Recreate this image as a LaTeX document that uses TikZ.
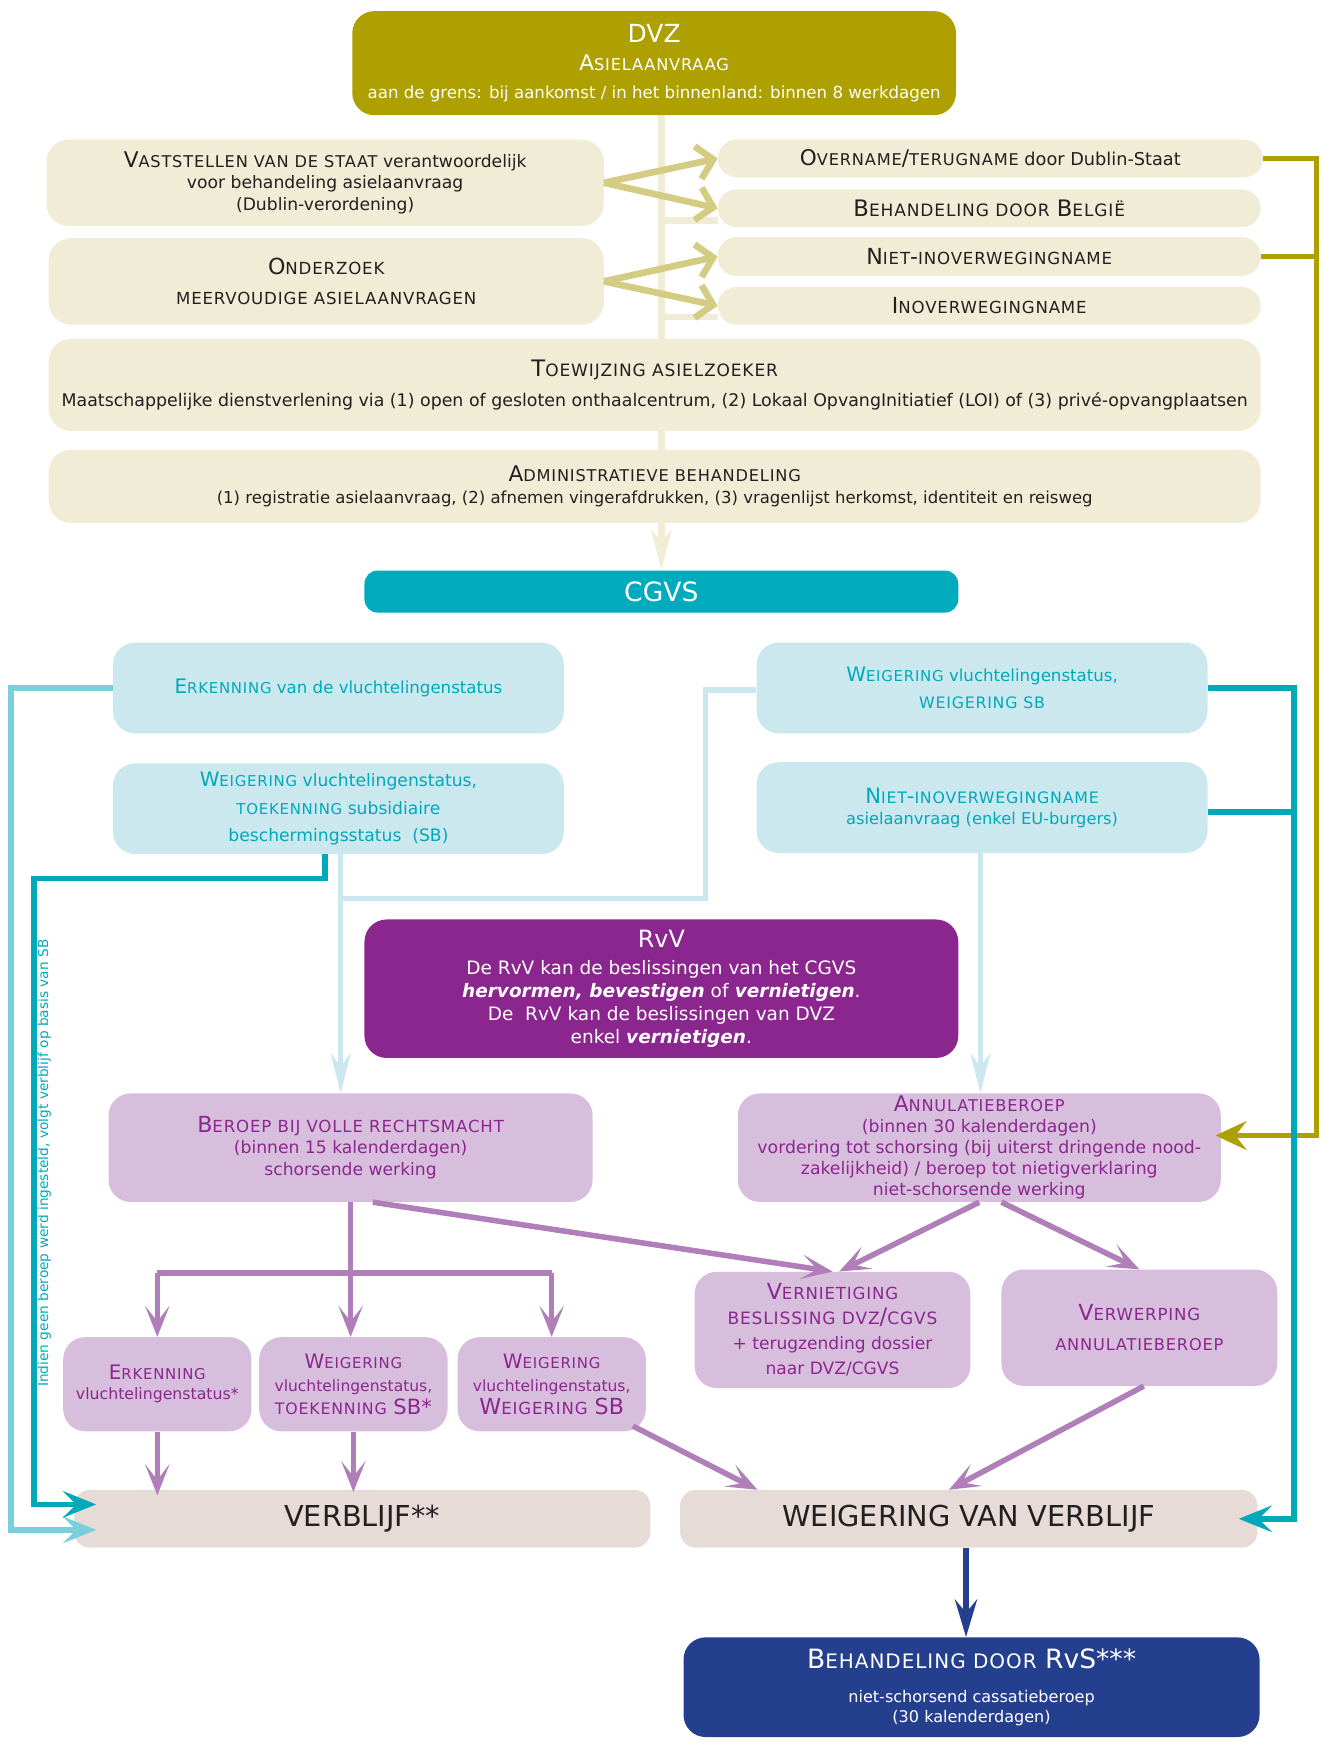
\documentclass[tikz,border=0pt]{standalone}
\usepackage{fontspec}
\setmainfont{DejaVu Sans}
\usepackage{xcolor}
\usetikzlibrary{shapes,arrows,positioning,fit,backgrounds,calc,arrows.meta}
\makeatletter
\newcommand{\smc}[1]{{\fontsize{\dimexpr\f@size pt*3/4\relax}{\baselineskip}\selectfont\addfontfeature{LetterSpace=5}\MakeUppercase{#1}}}
\makeatother
\newcommand{\fs}[2]{\fontsize{#1}{#2}\selectfont}
\definecolor{dvzolijf}{HTML}{ADA000}
\definecolor{beigevlak}{HTML}{F0ECD5}
\definecolor{kaki}{HTML}{D5CC83}
\definecolor{cgvsteal}{HTML}{00ABBD}
\definecolor{lichtblauw}{HTML}{CBE8EE}
\definecolor{tealtekst}{HTML}{00A9BA}
\definecolor{lichtteal}{HTML}{79CFDB}
\definecolor{paars}{HTML}{8B268E}
\definecolor{lila}{HTML}{D8BEDD}
\definecolor{lilapijl}{HTML}{B07FBA}
\definecolor{zandkleur}{HTML}{E6DBD7}
\definecolor{donkerblauw}{HTML}{253F8F}
\definecolor{donkertekst}{HTML}{231F20}
\tikzstyle{vak} = [rectangle, rounded corners=20pt, align=center, inner sep=0pt]
\tikzstyle{dvzbox} = [vak, fill=dvzolijf, text=white]
\tikzstyle{stapbox} = [vak, fill=beigevlak, text=donkertekst]
\tikzstyle{cgvsbox} = [vak, rounded corners=12pt, fill=cgvsteal, text=white]
\tikzstyle{besluit} = [vak, fill=lichtblauw, text=tealtekst]
\tikzstyle{rvvbox} = [vak, fill=paars, text=white]
\tikzstyle{beroepbox} = [vak, fill=lila, text=paars]
\tikzstyle{uitkomst} = [vak, rounded corners=14pt, fill=zandkleur, text=donkertekst]
\tikzstyle{rvsbox} = [vak, fill=donkerblauw, text=white]
\tikzstyle{spijl} = [draw=beigevlak, line width=6pt]
\tikzstyle{spijlpijl} = [spijl, -{Stealth[length=36pt,width=18pt,inset=10pt]}]
\tikzstyle{kakipijl} = [draw=kaki, line width=6pt, -{Straight Barb[length=14pt,width=30pt]}]
\tikzstyle{olijflijn} = [draw=dvzolijf, line width=5pt]
\tikzstyle{olijfpijl} = [olijflijn, -{Stealth[length=28pt,width=26pt,inset=10pt]}]
\tikzstyle{teallijn} = [draw=tealtekst, line width=5pt]
\tikzstyle{tealpijl} = [teallijn, -{Stealth[length=30pt,width=24pt,inset=12pt]}]
\tikzstyle{lichtpijl} = [draw=lichtteal, line width=5pt, -{Stealth[length=30pt,width=24pt,inset=12pt]}]
\tikzstyle{bleeklijn} = [draw=lichtblauw, line width=5pt]
\tikzstyle{bleekpijl} = [bleeklijn, -{Stealth[length=36pt,width=18pt,inset=12pt]}]
\tikzstyle{paarslijn} = [draw=lilapijl, line width=5pt]
\tikzstyle{paarspijl} = [paarslijn, -{Stealth[length=28pt,width=22pt,inset=14pt]}]
\tikzstyle{blauwpijl} = [draw=donkerblauw, line width=5pt, -{Stealth[length=34pt,width=20pt,inset=12pt]}]

\begin{document}
\begin{tikzpicture}[x=1pt, y=-1pt]
    \useasboundingbox (0,0) rectangle (1200,1577);

    % DVZ
    \node[dvzbox, minimum width=545pt, minimum height=94pt, font=\fs{15}{25}] (dvz) at (590.5,57)
        {{\fs{22.5}{25}DVZ}\\{\fs{19.5}{25}A\smc{sielaanvraag}}\\aan de grens: bij aankomst / in het binnenland: binnen 8 werkdagen};

    % Dublin en onderzoek
    \node[stapbox, minimum width=503pt, minimum height=78pt, font=\fs{15.5}{19.5}] (vast) at (293.5,165)
        {{\fs{19.5}{19.5}V\smc{aststellen van de staat}} verantwoordelijk\\voor behandeling asielaanvraag\\(Dublin-verordening)};
    \node[stapbox, rounded corners=17pt, minimum width=492pt, minimum height=34pt, font=\fs{16}{16}] (over) at (894,143)
        {{\fs{19.5}{16}O\smc{vername}/\smc{terugname}} door Dublin-Staat};
    \node[stapbox, rounded corners=17pt, minimum width=490pt, minimum height=34pt, font=\fs{20.5}{16}] (belg) at (893,188)
        {B\smc{ehandeling door} B\smc{elgië}};
    \node[stapbox, minimum width=501pt, minimum height=78pt, font=\fs{20}{27}] (onder) at (294.5,254)
        {O\smc{nderzoek}\\\smc{meervoudige asielaanvragen}};
    \node[stapbox, rounded corners=17pt, minimum width=490pt, minimum height=35pt, font=\fs{20}{16}] (niet) at (893,231.5)
        {N\smc{iet}-\smc{inoverwegingname}};
    \node[stapbox, rounded corners=17pt, minimum width=490pt, minimum height=34pt, font=\fs{20}{16}] (inov) at (893,276)
        {I\smc{noverwegingname}};

    % Toewijzing en administratie
    \node[stapbox, minimum width=1094pt, minimum height=83pt, font=\fs{15.7}{27}] (toew) at (591,347.5)
        {{\fs{20.5}{27}T\smc{oewijzing asielzoeker}}\\Maatschappelijke dienstverlening via (1) open of gesloten onthaalcentrum, (2) Lokaal OpvangInitiatief (LOI) of (3) privé-opvangplaatsen};
    \node[stapbox, minimum width=1094pt, minimum height=66pt, font=\fs{14.9}{20}] (admin) at (591,439)
        {{\fs{19.5}{20}A\smc{dministratieve behandeling}}\\(1) registratie asielaanvraag, (2) afnemen vingerafdrukken, (3) vragenlijst herkomst, identiteit en reisweg};

    % CGVS
    \node[cgvsbox, minimum width=536pt, minimum height=38pt, font=\fs{24}{26}] (cgvs) at (597,534) {CGVS};

    % Beslissingen CGVS
    \node[besluit, minimum width=407pt, minimum height=82pt, font=\fs{15}{25}] (erk) at (305.5,621)
        {{\fs{18}{25}E\smc{rkenning}} van de vluchtelingenstatus};
    \node[besluit, minimum width=407pt, minimum height=82pt, font=\fs{15}{25}] (weig1) at (886.5,621)
        {{\fs{18}{25}W\smc{eigering}} vluchtelingenstatus,\\{\fs{19}{25}\smc{weigering sb}}};
    \node[besluit, minimum width=407pt, minimum height=82pt, font=\fs{15.5}{25}] (weig2) at (305.5,730)
        {{\fs{18}{25}W\smc{eigering}} vluchtelingenstatus,\\{\fs{18}{25}\smc{toekenning}} subsidiaire\\beschermingsstatus~~(SB)};
    \node[besluit, minimum width=407pt, minimum height=82pt, font=\fs{14.7}{19}] (niet2) at (886.5,729)
        {{\fs{19}{19}N\smc{iet}-\smc{inoverwegingname}}\\asielaanvraag (enkel EU-burgers)};

    % RvV
    \node[rvvbox, minimum width=536pt, minimum height=125pt, font=\fs{16.7}{20.5}] (rvv) at (597,892.5)
        {{\fs{21.5}{24}RvV}\\[4pt]De RvV kan de beslissingen van het CGVS\\\textbf{\textit{hervormen, bevestigen}} of \textbf{\textit{vernietigen}}.\\De~ RvV kan de beslissingen van DVZ\\enkel \textbf{\textit{vernietigen}}.};

    % Beroepen
    \node[beroepbox, minimum width=437pt, minimum height=98pt, font=\fs{15.5}{19.5}] (beroep) at (316.5,1036)
        {{\fs{20}{21}B\smc{eroep bij volle rechtsmacht}}\\(binnen 15 kalenderdagen)\\schorsende werking};
    \node[beroepbox, minimum width=436pt, minimum height=98pt, font=\fs{15.6}{19}] (annul) at (884,1036)
        {{\fs{19.5}{19}A\smc{nnulatieberoep}}\\(binnen 30 kalenderdagen)\\vordering tot schorsing (bij uiterst dringende nood-\\zakelijkheid) / beroep tot nietigverklaring\\niet-schorsende werking};

    % Uitspraken RvV
    \node[beroepbox, minimum width=170pt, minimum height=85pt, font=\fs{14.2}{18}] (erk2) at (142,1249.5)
        {{\fs{18}{18}E\smc{rkenning}}\\vluchtelingenstatus*};
    \node[beroepbox, minimum width=170pt, minimum height=85pt, font=\fs{14}{20.5}] (weig3) at (319,1249.5)
        {{\fs{18}{20.5}W\smc{eigering}}\\vluchtelingenstatus,\\{\fs{19}{20.5}\smc{toekenning} SB*}};
    \node[beroepbox, minimum width=170pt, minimum height=85pt, font=\fs{14}{20.5}] (weig4) at (498,1249.5)
        {{\fs{18}{20.5}W\smc{eigering}}\\vluchtelingenstatus,\\{\fs{20}{20.5}W\smc{eigering} SB}};
    \node[beroepbox, minimum width=249pt, minimum height=105pt, font=\fs{15.4}{22.5}] (vern) at (751.5,1200.5)
        {{\fs{20}{22.5}V\smc{ernietiging}}\\{\fs{20.5}{22.5}\smc{beslissing dvz}/\smc{cgvs}}\\+ terugzending dossier\\naar DVZ/CGVS};
    \node[beroepbox, minimum width=249pt, minimum height=105pt, font=\fs{20}{27}] (verw) at (1028.5,1198.5)
        {V\smc{erwerping}\\{\fs{19.5}{27}\smc{annulatieberoep}}};

    % Verblijf
    \node[uitkomst, minimum width=520pt, minimum height=52pt, font=\fs{26}{28}] (verblijf) at (327,1371) {VERBLIJF**};
    \node[uitkomst, minimum width=521pt, minimum height=52pt, font=\fs{26}{28}] (weigverb) at (874.5,1371) {WEIGERING VAN VERBLIJF};

    % RvS
    \node[rvsbox, minimum width=520pt, minimum height=90pt, font=\fs{14.5}{18.5}] (rvs) at (877,1523)
        {{\fs{24}{20}B\smc{ehandeling door} RvS***}\\[12pt]niet-schorsend cassatieberoep\\(30 kalenderdagen)};

    % Noot
    \node[rotate=90, text=tealtekst, font=\fs{12.4}{14}] (noot) at (40,1050)
        {Indien geen beroep werd ingesteld, volgt verblijf op basis van SB};

    % Ruggengraat DVZ - CGVS
    \begin{scope}[on background layer]
        \draw[spijlpijl] (dvz.south -| cgvs.north) -- (cgvs.north);
        \draw[spijl] ([yshift=6pt]belg.south west) -- ([yshift=6pt]belg.south west -| cgvs.north);
        \draw[spijl] ([yshift=7pt]inov.south west) -- ([yshift=7pt]inov.south west -| cgvs.north);
    \end{scope}

    % Pijlen Dublin
    \draw[kakipijl] (vast.east) -- (over.west);
    \draw[kakipijl] (vast.east) -- (belg.west);
    \draw[kakipijl] (onder.east) -- (niet.west);
    \draw[kakipijl] (onder.east) -- (inov.west);
    \draw[olijfpijl] (over.east) -- ++(48,0) |- ([xshift=-5pt,yshift=11pt]annul.east);
    \draw[olijflijn] (niet.east) -- ++(50,0);

    % Lijnen CGVS
    \draw[lichtpijl] (erk.west) -- ++(-92,0) |- ([xshift=20pt,yshift=-10pt]verblijf.west);
    \draw[tealpijl] ([xshift=-12pt]weig2.south) -- ++(0,22) -- ++(-263,0) |- ([xshift=20pt,yshift=13pt]verblijf.west);
    \coordinate (knik) at ($(weig2.south)+(2,40)$);
    \draw[bleekpijl] ([xshift=2pt]weig2.south) -- ([xshift=2pt]weig2.south |- beroep.north);
    \draw[bleeklijn] ([yshift=-2pt]weig1.west) -- ++(-46,0) |- (knik);
    \draw[bleekpijl] ([xshift=-1.5pt]niet2.south) -- ([xshift=-1.5pt]niet2.south |- annul.north);
    \draw[tealpijl] (weig1.east) -- ++(78,0) |- ([xshift=-17pt]weigverb.east);
    \draw[teallijn] ([yshift=-4pt]niet2.east) -- ++(78,0);

    % Pijlen RvV
    \coordinate (splits) at ($(beroep.south)+(0,64)$);
    \draw[paarslijn, line width=6pt] (erk2.north |- splits) -- (weig4.north |- splits);
    \draw[paarspijl] (beroep.south) -- (beroep.south |- weig3.north);
    \draw[paarspijl] (erk2.north |- splits) -- (erk2.north);
    \draw[paarspijl] (weig4.north |- splits) -- (weig4.north);
    \draw[paarspijl] ([xshift=20pt]beroep.south) -- (vern.north);
    \draw[paarspijl] (annul.south) -- ([xshift=6pt]vern.north);
    \draw[paarspijl] ([xshift=20pt]annul.south) -- (verw.north);
    \draw[paarspijl] (erk2.south) -- ([yshift=-5pt]erk2.south |- verblijf.north);
    \draw[paarspijl] (weig3.south) -- ([yshift=-2pt]weig3.south |- verblijf.north);
    \draw[paarspijl] ([xshift=-12pt,yshift=5pt]weig4.south east) -- ([xshift=70pt]weigverb.north west);
    \draw[paarspijl] ([xshift=4pt]verw.south) -- ([xshift=-18pt]weigverb.north);

    % Pijl RvS
    \draw[blauwpijl] ([xshift=-2.5pt]weigverb.south) -- ([xshift=-5pt]rvs.north);
\end{tikzpicture}
\end{document}
